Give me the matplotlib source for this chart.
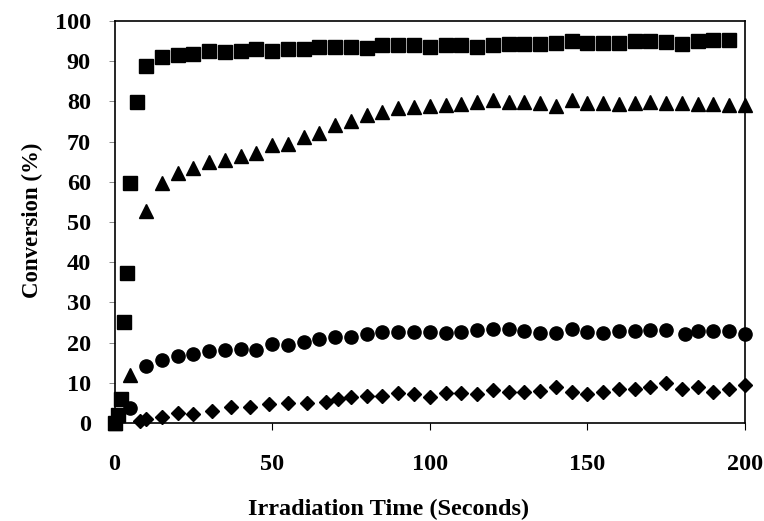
import numpy as np
import matplotlib
matplotlib.use("Agg")
import matplotlib.pyplot as plt

plt.rcParams['font.family'] = ['Liberation Serif', 'DejaVu Serif']

# irradiation time (s) and conversion (%) for the four formulations
t_square = [0, 1, 2, 3, 4, 5, 7, 10, 15, 20, 25, 30, 35, 40, 45, 50, 55, 60, 65,
            70, 75, 80, 85, 90, 95, 100, 105, 110, 115, 120, 125, 130, 135, 140,
            145, 150, 155, 160, 165, 170, 175, 180, 185, 190, 195]
conv_square = [0, 2.0, 5.9, 25.0, 37.3, 59.8, 79.8, 88.7, 90.9, 91.5, 91.8, 92.4,
               92.2, 92.5, 92.9, 92.6, 92.9, 93.0, 93.6, 93.5, 93.6, 93.2, 94.0,
               94.0, 94.0, 93.6, 94.0, 94.0, 93.6, 94.0, 94.2, 94.2, 94.2, 94.6,
               95.0, 94.6, 94.6, 94.6, 94.9, 95.0, 94.7, 94.2, 95.1, 95.3, 95.3]

t_triangle = [0, 5, 10, 15, 20, 25, 30, 35, 40, 45, 50, 55, 60, 65, 70, 75, 80,
              85, 90, 95, 100, 105, 110, 115, 120, 125, 130, 135, 140, 145, 150,
              155, 160, 165, 170, 175, 180, 185, 190, 195, 200]
conv_triangle = [0, 11.9, 52.8, 59.8, 62.1, 63.4, 64.8, 65.4, 66.4, 67.1, 69.2,
                 69.4, 71.2, 72.2, 74.2, 75.0, 76.6, 77.4, 78.3, 78.7, 78.9, 79.1,
                 79.4, 79.7, 80.3, 79.9, 79.8, 79.6, 78.9, 80.2, 79.6, 79.6, 79.4,
                 79.6, 79.9, 79.6, 79.6, 79.4, 79.4, 79.2, 79.0]

t_circle = [0, 5, 10, 15, 20, 25, 30, 35, 40, 45, 50, 55, 60, 65, 70, 75, 80, 85,
            90, 95, 100, 105, 110, 115, 120, 125, 130, 135, 140, 145, 150, 155,
            160, 165, 170, 175, 181, 185, 190, 195, 200]
conv_circle = [0, 3.7, 14.3, 15.7, 16.7, 17.1, 17.9, 18.2, 18.4, 18.2, 19.6, 19.4,
               20.1, 20.8, 21.4, 21.5, 22.1, 22.6, 22.7, 22.6, 22.7, 22.3, 22.7,
               23.1, 23.5, 23.5, 23.0, 22.3, 22.3, 23.3, 22.7, 22.3, 23.0, 23.0,
               23.1, 23.1, 22.1, 23.0, 22.9, 22.9, 22.1]

t_diamond = [0, 8, 10, 15, 20, 25, 31, 37, 43, 49, 55, 61, 67, 71, 75, 80, 85, 90,
             95, 100, 105, 110, 115, 120, 125, 130, 135, 140, 145, 150, 155, 160,
             165, 170, 175, 180, 185, 190, 195, 200]
conv_diamond = [0, 0.4, 0.9, 1.4, 2.4, 2.2, 3.1, 4.1, 3.9, 4.7, 5.1, 4.9, 5.3, 6.1,
                6.5, 6.7, 6.7, 7.4, 7.2, 6.5, 7.5, 7.4, 7.2, 8.2, 7.6, 7.8, 8.0,
                8.9, 7.6, 7.2, 7.8, 8.5, 8.5, 8.9, 9.9, 8.5, 9.0, 7.8, 8.5, 9.5]

fig = plt.figure(figsize=(7.64, 5.21), dpi=100)
ax = fig.add_axes([0.150, 0.188, 0.825, 0.772])

ax.plot(t_square, conv_square, 's', color='black', ms=9.5, clip_on=False, zorder=3)
ax.plot(t_triangle, conv_triangle, '^', color='black', ms=10.5, clip_on=False, zorder=3)
ax.plot(t_circle, conv_circle, 'o', color='black', ms=9.5, clip_on=False, zorder=3)
ax.plot(t_diamond, conv_diamond, 'D', color='black', ms=7.5, clip_on=False, zorder=3)

ax.set_xlim(0, 200)
ax.set_ylim(0, 100)
ax.set_xticks([0, 50, 100, 150, 200])
ax.set_yticks(np.arange(0, 101, 10))

for side in ['left', 'right', 'top', 'bottom']:
    ax.spines[side].set_linewidth(1.2)
    ax.spines[side].set_color('black')

ax.tick_params(axis='x', direction='out', length=5, width=0.8, pad=17, labelsize=17.5)
ax.tick_params(axis='y', direction='out', length=4, width=0.6, pad=13, labelsize=17.5,
               color='#777777')
for lbl in ax.get_xticklabels() + ax.get_yticklabels():
    lbl.set_fontweight('bold')

ax.set_xlabel('Irradiation Time (Seconds)', fontsize=17.5, fontweight='bold')
ax.set_ylabel('Conversion (%)', fontsize=16.5, fontweight='bold')
ax.xaxis.set_label_coords(0.434, -0.216)
ax.xaxis.label.set_va('center')
ax.yaxis.set_label_coords(-0.130, 0.505)
ax.yaxis.label.set_va('center')

fig.savefig('out.png', dpi=100)
